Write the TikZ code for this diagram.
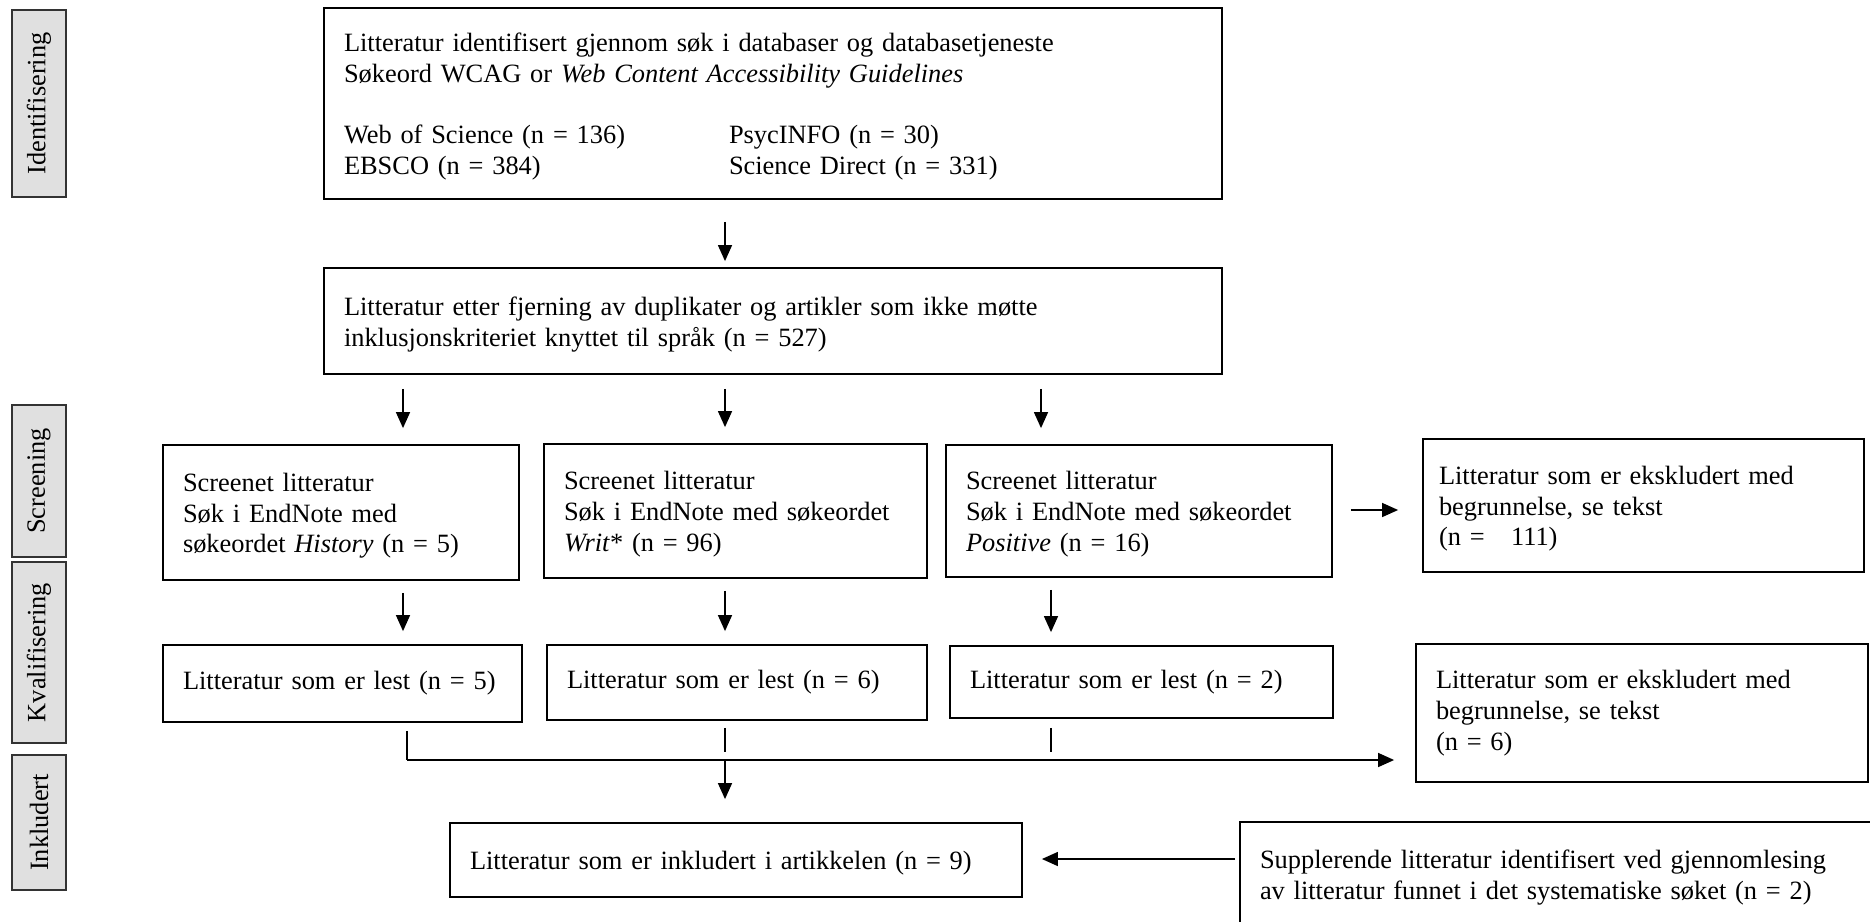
\documentclass[tikz,border=0pt]{standalone}
\usepackage{fontspec}
\setmainfont{Liberation Serif}[WordSpace=0.85]
\usetikzlibrary{arrows.meta,calc}
\definecolor{phaseFill}{HTML}{E0E0E0}
\newcommand\boxColor{black}
\newcommand\boxLineWidth{1.8pt}
\newcommand\phaseColor{phaseFill}
\newcommand\phaseLineColor{black!80}
\newcommand\arrowColor{black}
\newcommand\arrowLineWidth{1.4pt}
\newcommand\flowFont{\fontsize{26.4}{30.7}\selectfont}
\newcommand\colGap{385pt}
% pushes the text a bit lower in its box
\newcommand\topPad{\rule{0pt}{25pt}}

\tikzset{
    flowbox/.style={draw=\boxColor, line width=\boxLineWidth, shape=rectangle, align=left,
        inner xsep=20pt, inner ysep=0pt, anchor=center, font=\flowFont},
    phasebox/.style={draw=\phaseLineColor, fill=\phaseColor, line width=1.8pt, shape=rectangle,
        rotate=90, minimum height=54pt, inner sep=0pt, anchor=center, font=\flowFont},
    flowarrow/.style={draw=\arrowColor, line width=\arrowLineWidth, -{Triangle[length=16pt,width=14pt]}},
    flowline/.style={draw=\arrowColor, line width=\arrowLineWidth}
}

\begin{document}
\begin{tikzpicture}[x=1pt, y=-1pt]

    \clip (0,0) rectangle (1870,921);

    % phases on the left
    \node [phasebox, minimum width=187pt] (Phase_Ident) at (39,103.5) {Identifisering};
    \node [phasebox, minimum width=152pt] (Phase_Screen) at (39,481) {Screening};
    \node [phasebox, minimum width=181pt] (Phase_Qual) at (39,652.5) {Kvalifisering};
    \node [phasebox, minimum width=135pt] (Phase_Incl) at (39,822.5) {Inkludert};

    % boxes
    \node [flowbox, text width=858pt, minimum height=191pt] (Flow_Ident) at (773,103.5)
        {\topPad Litteratur identifisert gjennom søk i databaser og databasetjeneste\\
         Søkeord WCAG or \textit{Web Content Accessibility Guidelines}\\[30.7pt]
         \makebox[\colGap][l]{Web of Science (n = 136)}PsycINFO (n = 30)\\
         \makebox[\colGap][l]{EBSCO (n = 384)}Science Direct (n = 331)};
    \node [flowbox, text width=858pt, minimum height=106pt] (Flow_Merged) at (773,321)
        {\topPad Litteratur etter fjerning av duplikater og artikler som ikke møtte\\
         inklusjonskriteriet knyttet til språk (n = 527)};

    \node [flowbox, text width=316pt, minimum height=135pt] (Flow_Screen_A) at (341,512.5)
        {\topPad Screenet litteratur\\ Søk i EndNote med\\ søkeordet \textit{History} (n = 5)};
    \node [flowbox, text width=343pt, minimum height=134pt] (Flow_Screen_B) at (735.5,511)
        {\topPad Screenet litteratur\\ Søk i EndNote med søkeordet\\ \textit{Writ}* (n = 96)};
    \node [flowbox, text width=346pt, minimum height=132pt] (Flow_Screen_C) at (1139,511)
        {\topPad Screenet litteratur\\ Søk i EndNote med søkeordet\\ \textit{Positive} (n = 16)};
    \node [flowbox, text width=409pt, minimum height=133pt, inner xsep=16pt] (Flow_Excl_A) at (1643.5,505.5)
        {\topPad Litteratur som er ekskludert med\\ begrunnelse, se tekst\\ (n =~~~111)};

    \node [flowbox, text width=319pt, minimum height=77pt] (Flow_Read_A) at (342.5,683.5)
        {Litteratur som er lest (n = 5)};
    \node [flowbox, text width=340pt, minimum height=75pt] (Flow_Read_B) at (737,682.5)
        {Litteratur som er lest (n = 6)};
    \node [flowbox, text width=343pt, minimum height=72pt] (Flow_Read_C) at (1141.5,682)
        {Litteratur som er lest (n = 2)};
    \node [flowbox, text width=412pt, minimum height=138pt] (Flow_Excl_B) at (1642,713)
        {Litteratur som er ekskludert med\\ begrunnelse, se tekst\\ (n = 6)};

    \node [flowbox, text width=532pt, minimum height=74pt] (Flow_Included) at (736,860)
        {\topPad Litteratur som er inkludert i artikkelen (n = 9)};
    \node [flowbox, text width=595pt, minimum height=104pt] (Flow_Extra) at (1557.5,874)
        {\topPad Supplerende litteratur identifisert ved gjennomlesing\\
         av litteratur funnet i det systematiske søket (n = 2)};

    % columns for the arrows
    \coordinate (Col_Left) at (403,0);
    \coordinate (Col_Mid) at (725,0);
    \coordinate (Col_Right) at (1041,0);
    \coordinate (Col_Right_Low) at (1051,0);
    \coordinate (Join_Left) at (407,760);
    \coordinate (Join_Mid) at (725,760);

    \draw [flowarrow] ($(Flow_Ident.south -| Col_Mid)+(0,22)$) -- ($(Flow_Merged.north -| Col_Mid)+(0,-6)$);

    \draw [flowarrow] ($(Flow_Merged.south -| Col_Left)+(0,14)$) -- ($(Flow_Screen_A.north -| Col_Left)+(0,-16)$);
    \draw [flowarrow] ($(Flow_Merged.south -| Col_Mid)+(0,14)$) -- ($(Flow_Screen_B.north -| Col_Mid)+(0,-16)$);
    \draw [flowarrow] ($(Flow_Merged.south -| Col_Right)+(0,14)$) -- ($(Flow_Screen_C.north -| Col_Right)+(0,-16)$);

    \draw [flowarrow] ($(Flow_Screen_C.east)+(18,-1)$) -- ($(Flow_Screen_C.east -| Flow_Excl_A.west)+(-24,-1)$);

    \draw [flowarrow] ($(Flow_Screen_A.south -| Col_Left)+(0,12)$) -- ($(Flow_Read_A.north -| Col_Left)+(0,-13)$);
    \draw [flowarrow] ($(Flow_Screen_B.south -| Col_Mid)+(0,12)$) -- ($(Flow_Read_B.north -| Col_Mid)+(0,-13)$);
    \draw [flowarrow] ($(Flow_Screen_C.south -| Col_Right_Low)+(0,12)$) -- ($(Flow_Read_C.north -| Col_Right_Low)+(0,-13)$);

    % the lower joining line
    \draw [flowline] ($(Flow_Read_A.south -| Join_Left)+(0,8)$) -- (Join_Left);
    \draw [flowarrow] (Join_Left) -- ($(Join_Left -| Flow_Excl_B.west)+(-21,0)$);
    \draw [flowline] ($(Flow_Read_B.south -| Col_Mid)+(0,7)$) -- ($(Join_Mid)+(0,-8)$);
    \draw [flowline] ($(Flow_Read_C.south -| Col_Right_Low)+(0,9)$) -- ($(Join_Mid -| Col_Right_Low)+(0,-8)$);
    \draw [flowarrow] (Join_Mid) -- ($(Flow_Included.north -| Col_Mid)+(0,-23)$);

    \draw [flowarrow] ($(Flow_Extra.west |- Flow_Included.east)+(-4,-1)$) -- ($(Flow_Included.east)+(19,-1)$);

\end{tikzpicture}
\end{document}
